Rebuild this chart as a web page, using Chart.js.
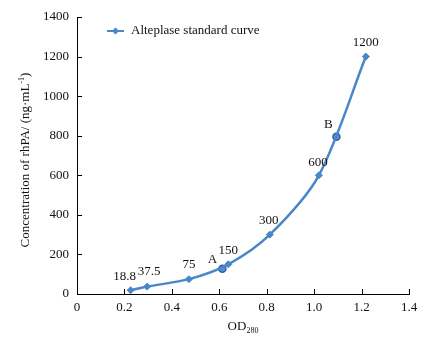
<!DOCTYPE html>
<html>
<head>
<meta charset="utf-8">
<script src="https://cdn.jsdelivr.net/npm/chart.js@4.4.1/dist/chart.umd.min.js"></script>
<style>
  html, body { margin: 0; padding: 0; background: #fff; }
  #wrap { width: 437px; height: 337px; }
</style>
</head>
<body>
<div id="wrap"><canvas id="curveChart"></canvas></div>
<script>
(() => {
  'use strict'

  // standard curve points (OD280 vs concentration)
  const odValues = [0.226, 0.296, 0.472, 0.638, 0.813, 1.020, 1.218];
  const concValues = [18.8, 37.5, 75, 150, 300, 600, 1200];
  const pointLabels = ['18.8', '37.5', '75', '150', '300', '600', '1200'];

  // measured samples A and B
  const sampleNames = ['A', 'B'];
  const sampleOD = [0.613, 1.094];
  const sampleConc = [128, 795];

  // axis ticks
  const xTicks = [0, 0.2, 0.4, 0.6, 0.8, 1.0, 1.2, 1.4];
  const yTicks = [0, 200, 400, 600, 800, 1000, 1200, 1400];

  const lineColor = '#4a86c8';
  const sampleColor = '#2f5fa8';
  const textColor = '#111';
  const serif = "'Liberation Serif', 'Times New Roman', serif";

  // label offsets from their point, in px
  const labelOffsets = [[-6, -14], [2, -15], [0, -15], [0, -14], [-1, -14], [-1, -13], [0, -14]];
  const sampleOffsets = [[-10, -9], [-8, -12]];

  const extras = {
    id: 'extras',
    afterDatasetsDraw(chart) {
      const { ctx, scales: { x, y } } = chart;
      ctx.save();

      // inside tick marks
      ctx.strokeStyle = '#000';
      ctx.lineWidth = 1;
      ctx.beginPath();
      yTicks.forEach(v => {
        const py = Math.round(y.getPixelForValue(v)) + 0.5;
        ctx.moveTo(x.left, py);
        ctx.lineTo(x.left + 5, py);
      });
      xTicks.forEach(v => {
        const px = Math.round(x.getPixelForValue(v)) + 0.5;
        ctx.moveTo(px, y.bottom);
        ctx.lineTo(px, y.bottom - 5);
      });
      ctx.stroke();

      // point labels
      ctx.fillStyle = textColor;
      ctx.font = '13px ' + serif;
      ctx.textAlign = 'center';
      ctx.textBaseline = 'middle';
      odValues.forEach((od, i) => {
        const px = x.getPixelForValue(od);
        const py = y.getPixelForValue(concValues[i]);
        ctx.fillText(pointLabels[i], px + labelOffsets[i][0], py + labelOffsets[i][1]);
      });
      sampleOD.forEach((od, i) => {
        const px = x.getPixelForValue(od);
        const py = y.getPixelForValue(sampleConc[i]);
        ctx.fillText(sampleNames[i], px + sampleOffsets[i][0], py + sampleOffsets[i][1]);
      });

      // legend inside the plot
      const ly = 31;
      ctx.strokeStyle = lineColor;
      ctx.lineWidth = 2;
      ctx.beginPath();
      ctx.moveTo(107, ly);
      ctx.lineTo(124, ly);
      ctx.stroke();
      ctx.fillStyle = lineColor;
      ctx.beginPath();
      ctx.moveTo(115.5, ly - 3.5);
      ctx.lineTo(119, ly);
      ctx.lineTo(115.5, ly + 3.5);
      ctx.lineTo(112, ly);
      ctx.closePath();
      ctx.fill();
      ctx.fillStyle = textColor;
      ctx.textAlign = 'left';
      ctx.fillText('Alteplase standard curve', 131, ly);

      // x axis title with subscript
      ctx.textBaseline = 'alphabetic';
      ctx.font = '13px ' + serif;
      const odW = ctx.measureText('OD').width;
      ctx.font = '8px ' + serif;
      const subW = ctx.measureText('280').width;
      const tx = (x.left + x.right) / 2 - (odW + subW) / 2;
      ctx.font = '13px ' + serif;
      ctx.fillText('OD', tx, 330);
      ctx.font = '8px ' + serif;
      ctx.fillText('280', tx + odW, 333);

      // y axis title with superscript
      ctx.translate(29, 160);
      ctx.rotate(-Math.PI / 2);
      const t1 = 'Concentration of rhPA/ (ng\u00b7mL';
      const t2 = '-1';
      const t3 = ')';
      ctx.font = '13px ' + serif;
      const w1 = ctx.measureText(t1).width;
      const w3 = ctx.measureText(t3).width;
      ctx.font = '8px ' + serif;
      const w2 = ctx.measureText(t2).width;
      let cx = -(w1 + w2 + w3) / 2;
      ctx.font = '13px ' + serif;
      ctx.fillText(t1, cx, 0);
      cx += w1;
      ctx.font = '8px ' + serif;
      ctx.fillText(t2, cx, -5);
      cx += w2;
      ctx.font = '13px ' + serif;
      ctx.fillText(t3, cx, 0);

      ctx.restore();
    }
  };

  const ctx = document.getElementById('curveChart').getContext('2d');

  const config = {
    type: 'line',
    data: {
      datasets: [
        {
          label: 'Alteplase standard curve',
          data: odValues.map((od, i) => ({ x: od, y: concValues[i] })),
          borderColor: lineColor,
          backgroundColor: lineColor,
          borderWidth: 2.5,
          pointStyle: 'rectRot',
          pointRadius: 3.5,
          pointBorderWidth: 1,
          tension: 0.3,
          fill: false
        },
        {
          label: 'Samples',
          data: sampleOD.map((od, i) => ({ x: od, y: sampleConc[i] })),
          showLine: false,
          pointStyle: 'circle',
          pointRadius: 3.5,
          backgroundColor: '#5b8fd0',
          borderColor: sampleColor,
          pointBorderWidth: 1.5
        }
      ]
    },
    options: {
      responsive: true,
      maintainAspectRatio: false,
      animation: false,
      layout: { padding: { top: 17, right: 28, bottom: 0, left: 0 } },
      plugins: {
        legend: { display: false },
        tooltip: { enabled: false }
      },
      scales: {
        x: {
          type: 'linear',
          min: 0,
          max: 1.4,
          afterBuildTicks: s => { s.ticks = xTicks.map(v => ({ value: v })); },
          afterFit: s => { s.height = 43; },
          grid: { display: false, drawTicks: false },
          border: { display: true, color: '#000', width: 1 },
          ticks: {
            padding: 6,
            color: textColor,
            font: { family: serif, size: 13 },
            callback: v => (v === 0 ? '0' : v.toFixed(1))
          }
        },
        y: {
          type: 'linear',
          min: 0,
          max: 1400,
          afterBuildTicks: s => { s.ticks = yTicks.map(v => ({ value: v })); },
          afterFit: s => { s.width = 77; },
          grid: { display: false, drawTicks: false },
          border: { display: true, color: '#000', width: 1 },
          ticks: {
            padding: 8,
            color: textColor,
            font: { family: serif, size: 13 },
            callback: v => String(v)
          }
        }
      }
    },
    plugins: [extras]
  };

  new Chart(ctx, config);
})()
</script>
</body>
</html>
